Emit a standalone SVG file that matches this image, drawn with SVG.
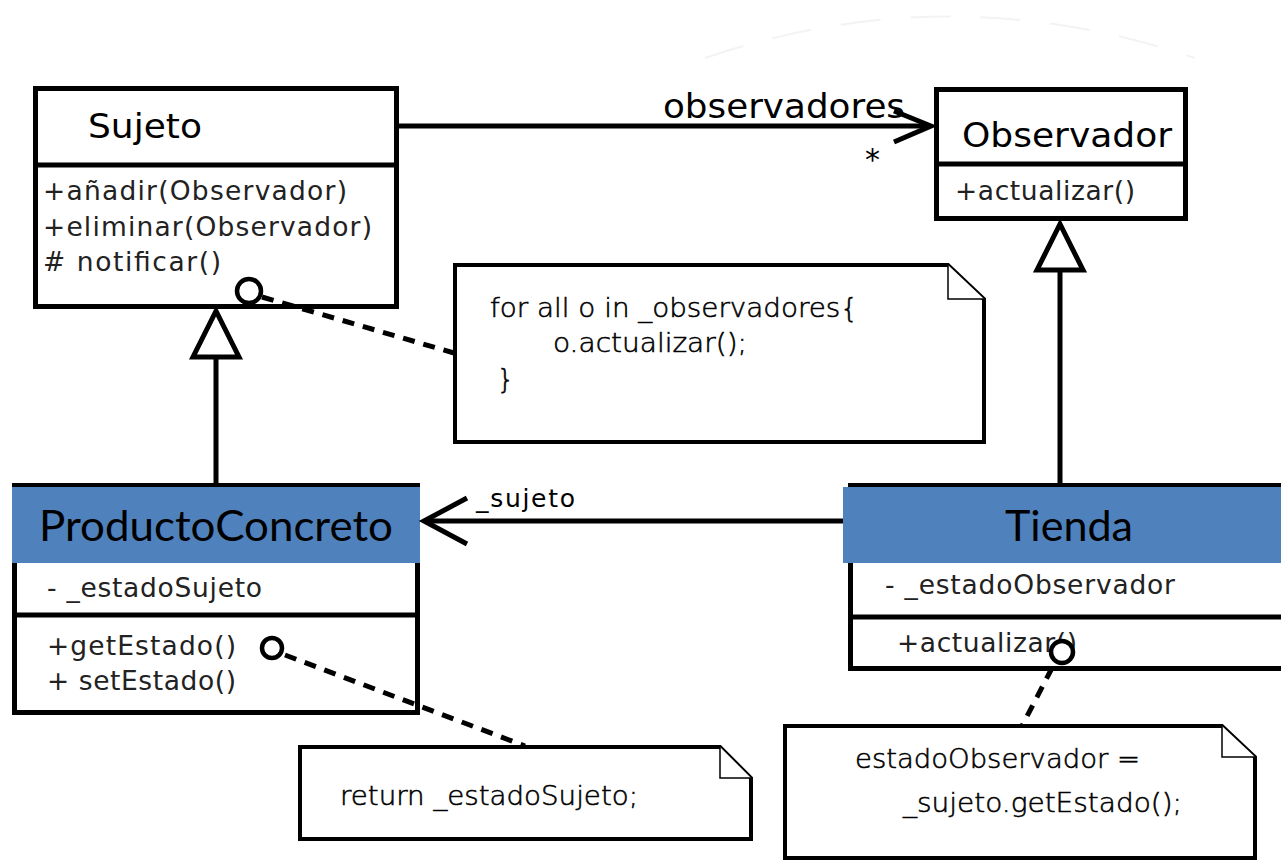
<svg xmlns="http://www.w3.org/2000/svg" width="1281" height="861" viewBox="0 0 1281 861">
  <style>
    .box { fill: #ffffff; stroke: #000000; stroke-width: 5; }
    .sep { stroke: #000000; stroke-width: 5; fill: none; }
    .hdr { fill: #4f81bd; stroke: none; }
    .note { fill: #ffffff; stroke: #000000; stroke-width: 4; stroke-linejoin: miter; }
    .fold { fill: #ffffff; stroke: #000000; stroke-width: 1.5; }
    .title { font-family: "DejaVu Sans", "Liberation Sans", sans-serif; font-size: 34px; fill: #000; }
    .member { font-family: "DejaVu Sans", "Liberation Sans", sans-serif; font-size: 26.5px; fill: #222; }
    .big { font-family: Lato, "Liberation Sans", sans-serif; font-size: 43px; fill: #000; }
    .ntext { font-family: "DejaVu Sans", "Liberation Sans", sans-serif; font-weight: 200; font-size: 27px; fill: #000; stroke: #000; stroke-width: 0.55; }
    .line { stroke: #000000; stroke-width: 5; fill: none; }
    .dash { stroke: #000000; stroke-width: 5; fill: none; stroke-dasharray: 12 9; }
    .head { stroke: #000000; stroke-width: 5; fill: none; stroke-linejoin: miter; }
    .tri { fill: #ffffff; stroke: #000000; stroke-width: 5; stroke-linejoin: miter; }
    .anchor { fill: #ffffff; stroke: #000000; stroke-width: 4.5; }
    .lbl { font-family: "DejaVu Sans", "Liberation Sans", sans-serif; fill: #000; }
  </style>

  <!-- faint arc in the top-right background -->
  <path d="M 705 58 Q 950 -25 1195 58" fill="none" stroke="#f3f3f3" stroke-width="2" stroke-dasharray="40 30"/>

  <!-- Sujeto -->
  <g id="sujeto">
    <rect class="box" x="35.5" y="88.5" width="361" height="218"/>
    <line class="sep" x1="35.5" y1="165" x2="396.5" y2="165"/>
    <text class="title" x="88" y="138" textLength="114" lengthAdjust="spacingAndGlyphs">Sujeto</text>
    <text class="member" x="43" y="200" textLength="304" lengthAdjust="spacing">+añadir(Observador)</text>
    <text class="member" x="43" y="236" textLength="329" lengthAdjust="spacing">+eliminar(Observador)</text>
    <text class="member" x="43" y="271" textLength="178" lengthAdjust="spacing"># notificar()</text>
  </g>

  <!-- Observador -->
  <g id="observador">
    <rect class="box" x="936.5" y="89.5" width="249" height="129"/>
    <line class="sep" x1="936.5" y1="164" x2="1185.5" y2="164"/>
    <text class="title" x="962" y="147" textLength="210" lengthAdjust="spacingAndGlyphs">Observador</text>
    <text class="member" x="955" y="200" textLength="180" lengthAdjust="spacing">+actualizar()</text>
  </g>

  <!-- ProductoConcreto -->
  <g id="producto-concreto">
    <rect class="box" x="14.5" y="485.5" width="403" height="227"/>
    <line class="sep" x1="14.5" y1="615" x2="417.5" y2="615"/>
    <rect class="hdr" x="12" y="487" width="408" height="76"/>
    <text class="big" x="216" y="541" text-anchor="middle" textLength="354" lengthAdjust="spacingAndGlyphs">ProductoConcreto</text>
    <text class="member" x="47" y="597" textLength="215" lengthAdjust="spacing">- _estadoSujeto</text>
    <text class="member" x="47" y="655" textLength="189" lengthAdjust="spacing">+getEstado()</text>
    <text class="member" x="47" y="690" textLength="189" lengthAdjust="spacing">+ setEstado()</text>
  </g>

  <!-- Tienda -->
  <g id="tienda">
    <rect class="box" x="850.5" y="485.5" width="440" height="183"/>
    <line class="sep" x1="850.5" y1="617" x2="1290" y2="617"/>
    <rect class="hdr" x="843" y="487" width="445" height="76"/>
    <text class="big" x="1069" y="541" text-anchor="middle" textLength="128" lengthAdjust="spacingAndGlyphs">Tienda</text>
    <text class="member" x="885" y="594" textLength="290" lengthAdjust="spacing">- _estadoObservador</text>
    <text class="member" x="897" y="652" textLength="180" lengthAdjust="spacing">+actualizar()</text>
  </g>

  <!-- note: notificar() body -->
  <g id="note-notificar">
    <path class="note" d="M 455 265 L 948 265 L 984 299 L 984 442 L 455 442 Z"/>
    <path class="fold" d="M 948 265 L 948 299 L 984 299"/>
    <text class="ntext" x="490" y="317" textLength="368" lengthAdjust="spacingAndGlyphs">for all o in _observadores{</text>
    <text class="ntext" x="553" y="352" textLength="194" lengthAdjust="spacingAndGlyphs">o.actualizar();</text>
    <text class="ntext" x="497" y="388">}</text>
  </g>

  <!-- note: getEstado() body -->
  <g id="note-getestado">
    <path class="note" d="M 300 747 L 720 747 L 751 778 L 751 839 L 300 839 Z"/>
    <path class="fold" d="M 720 747 L 720 778 L 751 778"/>
    <text class="ntext" x="340" y="805" textLength="298" lengthAdjust="spacingAndGlyphs">return _estadoSujeto;</text>
  </g>

  <!-- note: actualizar() body -->
  <g id="note-actualizar">
    <path class="note" d="M 785 726 L 1222 726 L 1255 757 L 1255 858 L 785 858 Z"/>
    <path class="fold" d="M 1222 726 L 1222 757 L 1255 757"/>
    <text class="ntext" x="855" y="768" textLength="285" lengthAdjust="spacingAndGlyphs">estadoObservador =</text>
    <text class="ntext" x="903" y="812" textLength="279" lengthAdjust="spacingAndGlyphs">_sujeto.getEstado();</text>
  </g>

  <!-- connectors -->
  <g id="connectors">
    <!-- Sujeto -> Observador association -->
    <line class="line" x1="397" y1="126" x2="930" y2="126"/>
    <polyline class="head" points="894,111 931,126 894,142"/>
    <text class="lbl" x="663" y="118" font-size="33" textLength="242" lengthAdjust="spacingAndGlyphs">observadores</text>
    <text class="lbl" x="865" y="170" font-size="30">*</text>

    <!-- ProductoConcreto generalizes Sujeto -->
    <line class="line" x1="216" y1="483" x2="216" y2="357"/>
    <polygon class="tri" points="216,311 193,357 239,357"/>

    <!-- Tienda generalizes Observador -->
    <line class="line" x1="1060" y1="483" x2="1060" y2="270"/>
    <polygon class="tri" points="1060,224 1037,270 1083,270"/>

    <!-- Tienda -> ProductoConcreto association -->
    <line class="line" x1="843" y1="521" x2="424" y2="521"/>
    <polyline class="head" points="467,498 424,521 467,544"/>
    <text class="lbl" x="476" y="507" font-size="25" textLength="99" lengthAdjust="spacing">_sujeto</text>

    <!-- note attachments -->
    <line class="dash" x1="262" y1="297" x2="454" y2="353"/>
    <circle class="anchor" cx="249" cy="291" r="12"/>
    <line class="dash" x1="285" y1="655" x2="525" y2="746"/>
    <circle class="anchor" cx="272" cy="648" r="10"/>
    <line class="dash" x1="1052" y1="668" x2="1022" y2="726"/>
    <circle class="anchor" cx="1062" cy="652" r="11"/>
  </g>
</svg>
